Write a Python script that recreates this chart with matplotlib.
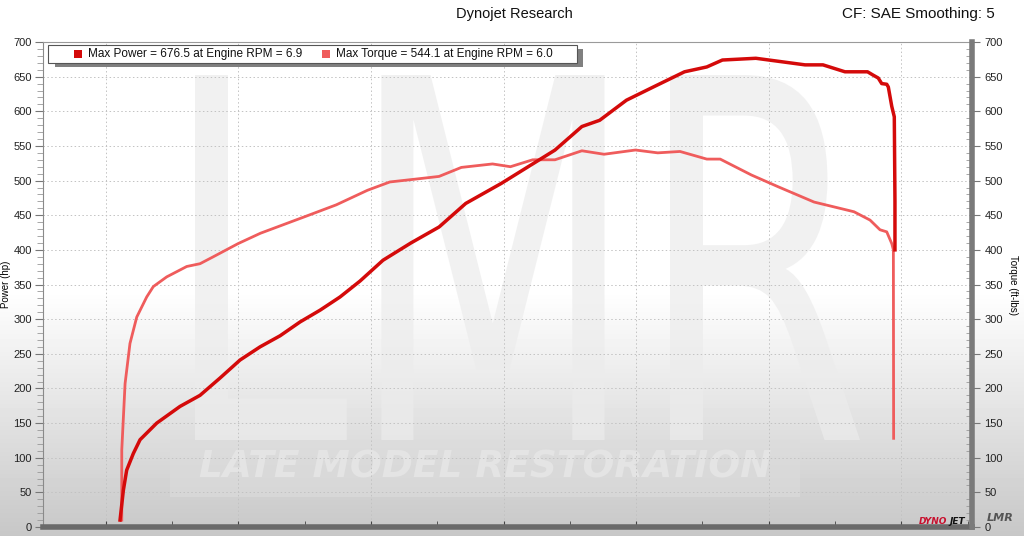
import numpy as np
import matplotlib.pyplot as plt
from matplotlib.patches import PathPatch, Rectangle
from matplotlib.textpath import TextPath
from matplotlib.font_manager import FontProperties
from matplotlib.transforms import Affine2D
from matplotlib.ticker import MultipleLocator, NullFormatter

plt.rcParams["font.family"] = ["Liberation Sans", "DejaVu Sans"]

# engine rpm (x1000) vs power (hp)
power_rpm = [2.108, 2.133, 2.158, 2.208, 2.259, 2.385, 2.560, 2.711, 2.862, 3.013,
             3.164, 3.315, 3.466, 3.617, 3.767, 3.918, 4.091, 4.302, 4.514, 4.715,
             4.984, 5.186, 5.388, 5.591, 5.725, 5.927, 6.129, 6.365, 6.533, 6.651,
             6.903, 7.274, 7.409, 7.575, 7.745, 7.789, 7.826, 7.852, 7.890, 7.902,
             7.928, 7.947, 7.952, 7.952]
power_hp = [10, 53, 82, 106, 126, 150, 174, 190, 215, 241,
            260, 276, 296, 313, 332, 355, 385, 410, 433, 467,
            496, 520, 544, 578, 587, 616, 635, 657, 664, 674,
            676.5, 667, 667, 657, 657, 652, 648, 640, 639, 635,
            607, 592, 470, 400]

# engine rpm (x1000) vs torque (ft-lbs)
torque_rpm = [2.121, 2.121, 2.146, 2.183, 2.234, 2.309, 2.359, 2.460, 2.611, 2.711,
              2.811, 2.998, 3.167, 3.503, 3.739, 3.974, 4.143, 4.378, 4.514, 4.682,
              4.917, 5.052, 5.220, 5.388, 5.591, 5.758, 5.995, 6.163, 6.331, 6.533,
              6.634, 6.870, 7.072, 7.342, 7.643, 7.764, 7.839, 7.890, 7.928, 7.940,
              7.942]
torque_lbft = [10, 111, 207, 265, 303, 332, 347, 361, 376, 380,
               390, 409, 424, 448, 465, 486, 498, 503, 506, 519,
               524, 520, 530, 530, 543, 538, 544.1, 540, 542, 531,
               531, 508, 491, 469, 455, 443, 429, 426, 409, 400,
               128]

legend_labels = ["Max Power = 676.5 at Engine RPM = 6.9",
                 "Max Torque = 544.1 at Engine RPM = 6.0"]
power_color = "#d40a0a"
torque_color = "#ef5c5c"

W, H = 1024, 536
fig = plt.figure(figsize=(W / 100, H / 100), dpi=100)

# background gradient, white at top to grey at bottom
bg = fig.add_axes([0, 0, 1, 1], zorder=-5)
rows = np.arange(H)
shade = np.clip(1 - (rows - 290) / 246 * 0.22, 0.78, 1.0)
bg.imshow(shade[:, None], cmap="gray", vmin=0, vmax=1, aspect="auto",
          extent=[0, 1, 0, 1], origin="upper")
bg.axis("off")


def px(x, y):
    return x / W, 1 - y / H


# watermark
tp = TextPath((0, 0), "LMR", prop=FontProperties(family="DejaVu Sans"))
ext = tp.get_extents()
x0, y0 = px(195, 440)
x1, y1 = px(860, 75)
tr = (Affine2D().translate(-ext.x0, -ext.y0)
      .scale((x1 - x0) / ext.width, (y1 - y0) / ext.height)
      .translate(x0, y0))
fig.patches.append(PathPatch(tr.transform_path(tp), transform=fig.transFigure,
                             facecolor="#ececec", edgecolor="none", alpha=0.7,
                             zorder=-4))
bx, by = px(170, 497)
fig.patches.append(Rectangle((bx, by), 630 / W, 57 / H, transform=fig.transFigure,
                             facecolor="#dcdcdc", edgecolor="none", alpha=0.6,
                             zorder=-4))
fig.text(485 / W, 1 - 468 / H, "LATE MODEL RESTORATION", color="#e4e4e4",
         fontsize=27, fontweight="bold", fontstyle="italic", ha="center",
         va="center", zorder=-3, family="DejaVu Sans")

ax = fig.add_axes([43 / W, 9 / H, 929 / W, 485 / H])
ax.set_facecolor("none")
ax.plot(torque_rpm, torque_lbft, color=torque_color, lw=2.0, zorder=3,
        solid_joinstyle="round")
ax.plot(power_rpm, power_hp, color=power_color, lw=2.5, zorder=4,
        solid_joinstyle="round")

ax.set_xlim(1.527, 8.533)
ax.set_ylim(0, 700)
ax.xaxis.set_major_locator(MultipleLocator(1))
ax.xaxis.set_minor_locator(MultipleLocator(0.5))
ax.xaxis.set_major_formatter(NullFormatter())
ax.tick_params(axis="x", which="both", direction="in", length=4, color="#444444",
               labelbottom=False)
ax.yaxis.set_major_locator(MultipleLocator(50))
ax.yaxis.set_minor_locator(MultipleLocator(10))
ax.tick_params(axis="y", which="major", length=6, color="#777777", labelsize=8,
               labelcolor="#222222", pad=2)
ax.tick_params(axis="y", which="minor", length=4, color="#999999")
ax.grid(True, which="major", color="#c2c2c2", ls=(0, (1.5, 2.5)), lw=0.7)
ax.set_axisbelow(True)
ax.set_ylabel("Power (hp)", fontsize=7)
ax.yaxis.set_label_coords(-0.034, 0.5)

ax.spines["bottom"].set_color("#6a6a6a")
ax.spines["bottom"].set_linewidth(4)
ax.spines["top"].set_color("#9a9a9a")
ax.spines["left"].set_color("#8a8a8a")
ax.spines["right"].set_visible(False)

ax2 = ax.twinx()
ax2.set_ylim(0, 700)
ax2.yaxis.set_major_locator(MultipleLocator(50))
ax2.yaxis.set_minor_locator(MultipleLocator(10))
ax2.tick_params(axis="y", which="major", length=6, color="#777777", labelsize=8,
                labelcolor="#222222", pad=3)
ax2.tick_params(axis="y", which="minor", direction="in", length=4, color="#999999")
ax2.spines["right"].set_color("#7a7a7a")
ax2.spines["right"].set_linewidth(4)
for s in ["top", "bottom", "left"]:
    ax2.spines[s].set_visible(False)
ax2.set_ylabel("Torque (ft-lbs)", fontsize=7, rotation=270, va="center")
ax2.yaxis.set_label_coords(1.044, 0.5)

# legend box with shadow
lx, ly = px(55, 67)
fig.patches.append(Rectangle((lx, ly), 528 / W, 18 / H, transform=fig.transFigure,
                             facecolor="#808080", edgecolor="none", zorder=5))
lx, ly = px(48, 63)
fig.patches.append(Rectangle((lx, ly), 529 / W, 18 / H, transform=fig.transFigure,
                             facecolor="white", edgecolor="#555555", lw=0.8,
                             zorder=6))
for mx, tx, label, c in [(78, 88, legend_labels[0], power_color),
                         (326, 336, legend_labels[1], torque_color)]:
    sx, sy = px(mx - 4, 58)
    fig.patches.append(Rectangle((sx, sy), 8 / W, 8 / H, transform=fig.transFigure,
                                 facecolor=c, edgecolor="none", zorder=7))
    fig.text(tx / W, 1 - 54 / H, label, fontsize=8.5, va="center", ha="left",
             color="#111111", zorder=7)

fig.text(514 / W, 1 - 14 / H, "Dynojet Research", fontsize=10.5, ha="center",
         va="center", color="#111111")
fig.text(842 / W, 1 - 14 / H, "CF: SAE Smoothing: 5", fontsize=11, ha="left",
         va="center", color="#111111")

# logos bottom right
fig.text(947 / W, 1 - 521 / H, "DYNO", fontsize=6.5, fontweight="bold",
         fontstyle="italic", color="#c8102e", ha="right", va="center",
         family="DejaVu Sans")
fig.text(949 / W, 1 - 521 / H, "JET", fontsize=6.5, fontweight="bold",
         fontstyle="italic", color="#111111", ha="left", va="center",
         family="DejaVu Sans")
fig.text(1000 / W, 1 - 518 / H, "LMR", fontsize=8, fontweight="bold",
         fontstyle="italic", color="#555555", ha="center", va="center",
         family="DejaVu Sans")

fig.savefig("out.png", dpi=100)
